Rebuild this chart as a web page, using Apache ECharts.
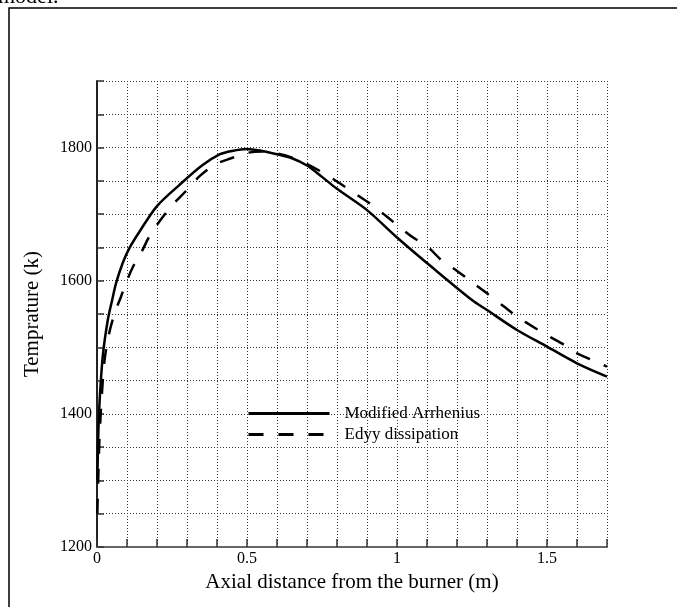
<!DOCTYPE html>
<html>
<head>
<meta charset="utf-8">
<script src="https://cdn.jsdelivr.net/npm/echarts@6/dist/echarts.min.js"></script>
<style>
  html, body { margin: 0; padding: 0; background: #fff; }
  #chart { width: 677px; height: 607px; }
</style>
</head>
<body>
<div id="chart"></div>
<script>
// Axial temperature profiles for two combustion models
const seriesNames = ['Modified Arrhenius', 'Edyy dissipation'];

// [axial distance (m), temperature (K)]
const arrheniusData = [
  [0.001, 1300], [0.005, 1380], [0.01, 1430], [0.02, 1490], [0.036, 1541],
  [0.05, 1570], [0.064, 1597], [0.086, 1627], [0.108, 1649], [0.142, 1674],
  [0.2, 1712], [0.275, 1744], [0.35, 1773], [0.41, 1790], [0.45, 1795],
  [0.5, 1798], [0.55, 1795], [0.6, 1790], [0.65, 1784], [0.7, 1773],
  [0.75, 1756], [0.8, 1738], [0.9, 1706], [1.0, 1665], [1.12, 1619],
  [1.25, 1571], [1.3, 1556], [1.4, 1526], [1.5, 1501], [1.6, 1476], [1.7, 1456]
];

const eddyData = [
  [0.001, 1250], [0.004, 1300], [0.008, 1360], [0.015, 1420], [0.025, 1480],
  [0.04, 1520], [0.058, 1550], [0.08, 1576], [0.097, 1597], [0.12, 1621],
  [0.147, 1642], [0.175, 1667], [0.208, 1689], [0.25, 1713], [0.295, 1734],
  [0.342, 1757], [0.395, 1775], [0.447, 1784], [0.5, 1792], [0.55, 1794],
  [0.6, 1791], [0.65, 1785], [0.7, 1775], [0.75, 1763], [0.8, 1749],
  [0.85, 1734], [0.9, 1719], [0.95, 1702], [1.05, 1666], [1.1, 1652],
  [1.15, 1630], [1.19, 1618], [1.25, 1598], [1.3, 1581], [1.36, 1560],
  [1.4, 1546], [1.46, 1529], [1.5, 1518], [1.56, 1503], [1.6, 1491],
  [1.66, 1479], [1.7, 1471]
];

// Labelled ticks; the other ticks only carry grid lines
const xTickLabels = ['0', '0.5', '1', '1.5'];
const yTickLabels = ['1200', '1400', '1600', '1800'];

const serif = 'Liberation Serif, Times New Roman, serif';

function pickLabel(list, v) {
  for (const s of list) {
    if (Math.abs(parseFloat(s) - v) < 1e-6) return s;
  }
  return '';
}

const chart = echarts.init(document.getElementById('chart'), null, { renderer: 'canvas' });

const gridStyle = { show: true, lineStyle: { color: '#333', width: 1, type: [1, 2] } };

chart.setOption({
  backgroundColor: '#fff',
  animation: false,
  textStyle: { fontFamily: serif },
  grid: { left: 97, top: 81, right: 70, bottom: 60, containLabel: false },
  graphic: [
    {
      type: 'rect',
      shape: { x: 9, y: 8, width: 720, height: 640 },
      style: { fill: 'none', stroke: '#000', lineWidth: 1.5 },
      silent: true
    },
    {
      type: 'text',
      left: -2, top: -14,
      style: { text: 'model.', font: '22px ' + serif, fill: '#000' },
      silent: true
    }
  ],
  legend: {
    orient: 'vertical',
    left: 242,
    top: 400,
    itemWidth: 81,
    itemHeight: 14,
    itemGap: 4,
    itemStyle: { opacity: 0 },
    lineStyle: { width: 3 },
    textStyle: { fontFamily: serif, fontSize: 17, color: '#000', padding: [0, 0, 0, 10] },
    data: seriesNames
  },
  xAxis: {
    type: 'value',
    min: 0,
    max: 1.7,
    interval: 0.1,
    name: 'Axial distance from the burner (m)',
    nameLocation: 'middle',
    nameGap: 17,
    nameTextStyle: { fontFamily: serif, fontSize: 21, color: '#000' },
    axisLine: { show: true, onZero: false, lineStyle: { color: '#666', width: 2 } },
    axisTick: { show: true, inside: true, length: 8, lineStyle: { color: '#333', width: 1.5 } },
    axisLabel: {
      margin: 4,
      fontFamily: serif, fontSize: 16, color: '#000',
      showMinLabel: true, showMaxLabel: true,
      formatter: v => pickLabel(xTickLabels, v)
    },
    splitLine: gridStyle
  },
  yAxis: {
    type: 'value',
    min: 1200,
    max: 1900,
    interval: 50,
    name: 'Temprature (k)',
    nameLocation: 'middle',
    nameGap: 54,
    nameTextStyle: { fontFamily: serif, fontSize: 21, color: '#000' },
    axisLine: { show: true, onZero: false, lineStyle: { color: '#222', width: 2 } },
    axisTick: { show: true, inside: true, length: 7, lineStyle: { color: '#333', width: 1.5 } },
    axisLabel: {
      margin: 5,
      fontFamily: serif, fontSize: 16, color: '#000',
      formatter: v => pickLabel(yTickLabels, v)
    },
    splitLine: gridStyle
  },
  series: [
    {
      name: seriesNames[0],
      type: 'line',
      data: arrheniusData,
      smooth: 0.3,
      symbol: 'none',
      clip: true,
      lineStyle: { color: '#000', width: 2.5, type: 'solid' },
      itemStyle: { color: '#000' }
    },
    {
      name: seriesNames[1],
      type: 'line',
      data: eddyData,
      smooth: 0.3,
      symbol: 'none',
      clip: true,
      lineStyle: { color: '#000', width: 2.5, type: [15, 15] },
      itemStyle: { color: '#000' }
    }
  ]
});
</script>
</body>
</html>
